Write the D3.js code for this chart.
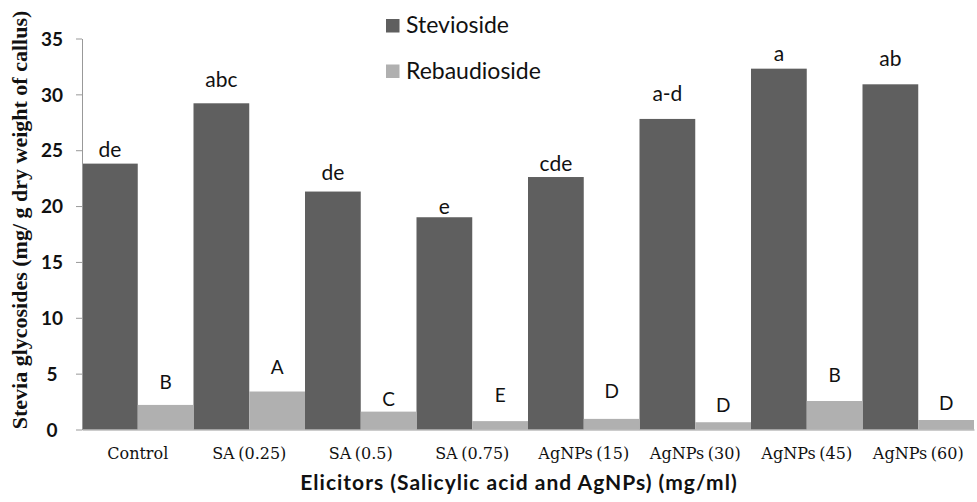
<!DOCTYPE html>
<html><head><meta charset="utf-8">
<script src="https://cdn.jsdelivr.net/npm/d3@7"></script>
<style>body{margin:0;background:#fff}</style>
</head><body>
<script>
const categories = ["Control","SA (0.25)","SA (0.5)","SA (0.75)","AgNPs (15)","AgNPs (30)","AgNPs (45)","AgNPs (60)"];
const stevioside = [23.8, 29.2, 21.3, 19.0, 22.6, 27.8, 32.3, 30.9];
const rebaudioside = [2.2, 3.4, 1.6, 0.75, 0.95, 0.65, 2.55, 0.85];
const steviosideLetters = ["de","abc","de","e","cde","a-d","a","ab"];
const rebaudiosideLetters = ["B","A","C","E","D","D","B","D"];
// letter heights above bar, in data units (as placed in the original)
const steviosideLetterGap = [0.6, 1.5, 1.0, 0.3, 0.5, 1.6, 0.7, 1.6];
const rebaudiosideLetterGap = [1.4, 1.6, 0.5, 1.7, 1.9, 0.9, 1.7, 0.9];
const yTicks = [0,5,10,15,20,25,30,35];
const seriesNames = ["Stevioside","Rebaudioside"];

const W = 977, H = 502;
const m = {left:82, right:3, top:38.5, bottom:72.5};
const colors = ["#5f5f5f","#b0b0b0"];

const svg = d3.select("body").append("svg").attr("width",W).attr("height",H);

const x = d3.scaleBand().domain(categories).range([m.left, W-m.right]).padding(0);
const xs = d3.scaleBand().domain(seriesNames).range([0, x.bandwidth()]).padding(0);
const y = d3.scaleLinear().domain([0,35]).range([H-m.bottom, m.top]);

const series = [stevioside, rebaudioside];
const letters = [steviosideLetters, rebaudiosideLetters];
const gaps = [steviosideLetterGap, rebaudiosideLetterGap];

series.forEach((vals, si) => {
  svg.append("g").selectAll("rect").data(vals).join("rect")
    .attr("x", (d,i) => x(categories[i]) + xs(seriesNames[si]))
    .attr("width", xs.bandwidth())
    .attr("y", d => y(d))
    .attr("height", d => y(0) - y(d))
    .attr("fill", colors[si]);
  svg.append("g").selectAll("text").data(vals).join("text")
    .attr("x", (d,i) => x(categories[i]) + xs(seriesNames[si]) + xs.bandwidth()/2)
    .attr("y", (d,i) => y(d + gaps[si][i]))
    .attr("text-anchor","middle")
    .attr("font-family","Lato, 'Open Sans', sans-serif")
    .attr("font-size", si===0 ? 21 : 19)
    .attr("fill","#111")
    .text((d,i) => letters[si][i]);
});

// y axis
const yAxis = svg.append("g").attr("transform",`translate(${m.left},0)`)
  .call(d3.axisLeft(y).tickValues(yTicks).tickSize(6).tickSizeOuter(0).tickPadding(0));
yAxis.select(".domain").attr("stroke","#999");
yAxis.selectAll(".tick line").attr("stroke","#999");
yAxis.selectAll(".tick text")
  .attr("x", -30).attr("text-anchor","middle").attr("dy","0.35em")
  .attr("font-family","Lato, sans-serif").attr("font-weight","bold")
  .attr("font-size",19).attr("fill","#111");

// x axis
const xAxis = svg.append("g").attr("transform",`translate(0,${y(0)})`)
  .call(d3.axisBottom(x).tickSize(0).tickPadding(0));
xAxis.select(".domain").attr("stroke","#999");
xAxis.selectAll(".tick text")
  .attr("y", 29).attr("dy", 0)
  .attr("font-family","'DejaVu Serif', serif")
  .attr("font-size",16).attr("word-spacing",-1.5).attr("fill","#111");

// axis titles
svg.append("text")
  .attr("x", 519).attr("y", 490)
  .attr("text-anchor","middle")
  .attr("font-family","Lato, sans-serif").attr("font-weight","bold")
  .attr("font-size",21).attr("letter-spacing",1).attr("fill","#111")
  .text("Elicitors (Salicylic acid and AgNPs) (mg/ml)");

svg.append("text")
  .attr("transform",`translate(27,${(10+430)/2}) rotate(-90)`)
  .attr("text-anchor","middle")
  .attr("font-family","'Liberation Serif', 'Times New Roman', serif").attr("font-weight","bold")
  .attr("font-size",22).attr("fill","#111")
  .text("Stevia glycosides (mg/ g dry weight of callus)");

// legend
const lg = svg.append("g");
seriesNames.forEach((n, i) => {
  const yy = 19 + i*45.5;
  lg.append("rect").attr("x",386).attr("y",yy).attr("width",13.5).attr("height",13.5).attr("fill",colors[i]);
  lg.append("text").attr("x",406).attr("y",yy+14)
    .attr("font-family","Lato, sans-serif").attr("font-size",23).attr("fill","#111").text(n);
});
</script>
</body></html>
